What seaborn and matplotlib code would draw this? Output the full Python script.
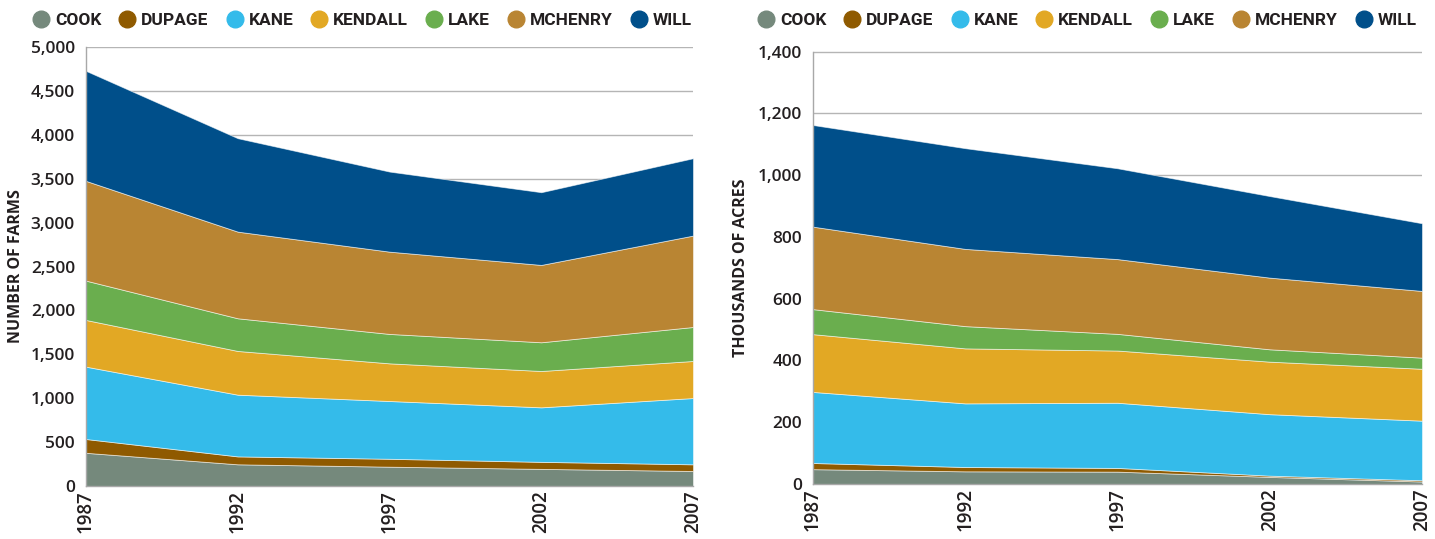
import matplotlib
matplotlib.use("Agg")
import matplotlib.pyplot as plt
from matplotlib.lines import Line2D
from matplotlib.ticker import FuncFormatter
import seaborn as sns

years = [1987, 1992, 1997, 2002, 2007]
counties = ["COOK", "DUPAGE", "KANE", "KENDALL", "LAKE", "MCHENRY", "WILL"]
colors = ["#75897c", "#8f5a00", "#34bbea", "#e2a824", "#6aae4e", "#b98533", "#004f8a"]

# Number of farms
farms_cook = [378, 247, 220, 195, 171]
farms_dupage = [157, 90, 90, 80, 76]
farms_kane = [824, 703, 658, 621, 755]
farms_kendall = [532, 498, 429, 414, 422]
farms_lake = [448, 372, 335, 327, 387]
farms_mchenry = [1136, 987, 937, 881, 1041]
farms_will = [1253, 1064, 912, 828, 881]

# Thousands of acres
acres_cook = [48, 41, 40, 23, 8]
acres_dupage = [20, 14, 12, 4, 4]
acres_kane = [230, 206, 211, 199, 193]
acres_kendall = [187, 178, 169, 170, 168]
acres_lake = [81, 72, 54, 40, 36]
acres_mchenry = [267, 250, 242, 232, 216]
acres_will = [329, 326, 294, 264, 219]

farms = [farms_cook, farms_dupage, farms_kane, farms_kendall, farms_lake, farms_mchenry, farms_will]
acres = [acres_cook, acres_dupage, acres_kane, acres_kendall, acres_lake, acres_mchenry, acres_will]

sns.set_theme(style="white")
plt.rcParams["font.family"] = ["Open Sans", "DejaVu Sans"]

text_color = "#231f20"
fig = plt.figure(figsize=(14.35, 5.39), dpi=100)
ax1 = fig.add_axes([86 / 1435, 53 / 539, 607 / 1435, 439 / 539])
ax2 = fig.add_axes([813 / 1435, 55 / 539, 609 / 1435, 432.5 / 539])

def draw(ax, data, ymax, step, ylabel, label_x):
    ax.stackplot(years, *data, colors=colors, edgecolor=(1, 1, 1, 0.6), linewidth=0.6, zorder=2)
    ax.set_xlim(years[0], years[-1])
    ax.set_ylim(0, ymax)
    ax.set_yticks(list(range(0, ymax + 1, step)))
    ax.yaxis.set_major_formatter(FuncFormatter(lambda v, p: f"{int(v):,}"))
    ax.set_xticks(years)
    ax.set_xticklabels([str(y) for y in years], rotation=90, fontsize=13.5,
                       fontweight="semibold", color=text_color)
    for t in ax.get_yticklabels():
        t.set_fontsize(12.5)
        t.set_fontweight("semibold")
        t.set_color(text_color)
    ax.grid(axis="y", color="#b5b5b5", linewidth=1.0, zorder=0)
    ax.set_axisbelow(True)
    for s in ["top", "right"]:
        ax.spines[s].set_visible(False)
    for s in ["left", "bottom"]:
        ax.spines[s].set_color("#a8a8a8")
        ax.spines[s].set_linewidth(1.0)
    ax.tick_params(axis="y", length=6, color="#b5b5b5", pad=2)
    ax.tick_params(axis="x", length=0, pad=3)
    fig.text(label_x, (ax.get_position().y0 + ax.get_position().y1) / 2, ylabel,
             rotation=90, ha="center", va="center", fontsize=11.5,
             fontweight="bold", color=text_color)

draw(ax1, farms, 5000, 500, "NUMBER OF FARMS", 16 / 1435)
draw(ax2, acres, 1400, 200, "THOUSANDS OF ACRES", 741 / 1435)

handles = [Line2D([0], [0], marker="o", linestyle="", markersize=12,
                  markerfacecolor=c, markeredgecolor=c) for c in colors]
for cx in (362 / 1435, 1087 / 1435):
    leg = fig.legend(handles, counties, loc="center", bbox_to_anchor=(cx, 1 - 20 / 539),
                     ncol=7, frameon=False, handletextpad=0.3, columnspacing=1.0,
                     handlelength=1.0,
                     prop={"family": ["Roboto", "DejaVu Sans"],
                           "weight": "bold", "size": 12.5})
    for t in leg.get_texts():
        t.set_color(text_color)

fig.savefig("out.png", dpi=100, facecolor="white")
